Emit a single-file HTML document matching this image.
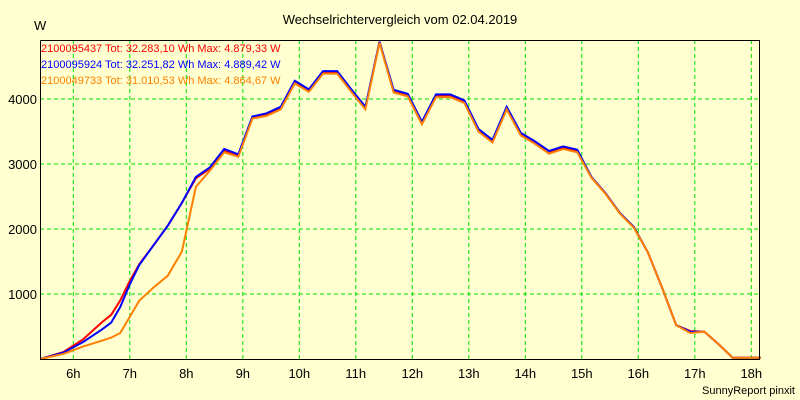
<!DOCTYPE html>
<html><head><meta charset="utf-8"><style>
body{margin:0;background:#ffffd0;}
svg{display:block;font-family:"Liberation Sans",sans-serif;}
</style></head><body>
<svg id="c" width="800" height="400" viewBox="0 0 800 400">
<rect x="0" y="0" width="800" height="400" fill="#ffffd0"/>
<text x="400" y="24" font-size="13" text-anchor="middle">Wechselrichtervergleich vom 02.04.2019</text>
<text x="34" y="30" font-size="13">W</text>
<g id="grid"></g>
<g id="series"></g>
<path d="M40.5 40.5V359.5H759.5V40.5H40.5" fill="none" stroke="#000" stroke-width="1"/>
<g id="ticks"></g>
<text x="41" y="52" font-size="11" fill="#ff0000">2100095437 Tot: 32.283,10 Wh Max: 4.879,33 W</text>
<text x="41" y="68" font-size="11" fill="#0000ff">2100095924 Tot: 32.251,82 Wh Max: 4.889,42 W</text>
<text x="41" y="84" font-size="11" fill="#ff8000">2100049733 Tot: 31.010,53 Wh Max: 4.864,67 W</text>
<text x="795" y="394" font-size="11" text-anchor="end">SunnyReport pinxit</text>
</svg>
<script>
const hourTicks=[6,7,8,9,10,11,12,13,14,15,16,17,18];
const yTicks=[1000,2000,3000,4000];
const times=[5.42,5.83,6.17,6.5,6.67,6.83,7.0,7.17,7.42,7.67,7.92,8.17,8.42,8.67,8.92,9.17,9.42,9.67,9.92,10.17,10.42,10.67,10.92,11.17,11.42,11.67,11.92,12.17,12.42,12.67,12.92,13.17,13.42,13.67,13.92,14.17,14.42,14.67,14.92,15.17,15.42,15.67,15.92,16.17,16.42,16.67,16.92,17.17,17.42,17.67,18.17];
const blueVals=[0,100,260,450,560,800,1150,1450,1750,2050,2400,2800,2950,3230,3150,3730,3780,3880,4280,4150,4430,4430,4150,3880,4880,4140,4080,3650,4070,4070,3980,3540,3370,3880,3480,3350,3200,3270,3220,2800,2550,2250,2030,1640,1100,520,420,420,230,20,20];
const redVals=[0,110,300,560,680,900,1200,1460,1750,2050,2400,2780,2930,3210,3130,3710,3760,3860,4260,4130,4410,4410,4130,3860,4880,4120,4060,3630,4050,4050,3960,3520,3350,3860,3460,3330,3180,3250,3200,2800,2550,2250,2030,1640,1100,520,430,420,230,20,20];
const orangeVals=[0,80,190,280,330,400,650,900,1100,1280,1650,2650,2900,3180,3110,3700,3740,3840,4240,4110,4390,4390,4110,3840,4865,4100,4040,3610,4030,4030,3940,3500,3330,3840,3440,3310,3160,3230,3180,2790,2540,2240,2020,1640,1100,520,400,420,230,20,20];
const X=h=>73.3+(h-6)*56.5, Y=v=>359-v*0.065;
const NS='http://www.w3.org/2000/svg';
const grid=document.getElementById('grid'),ticks=document.getElementById('ticks'),ser=document.getElementById('series');
hourTicks.forEach(h=>{
 const l=document.createElementNS(NS,'line');
 l.setAttribute('x1',X(h));l.setAttribute('x2',X(h));l.setAttribute('y1',40);l.setAttribute('y2',359);
 l.setAttribute('stroke','#00e000');l.setAttribute('stroke-dasharray','4,3');
 
 
 grid.appendChild(l);
 const t=document.createElementNS(NS,'text');
 t.setAttribute('x',X(h));t.setAttribute('y',378);t.setAttribute('font-size','13');t.setAttribute('text-anchor','middle');
 t.textContent=h+'h';
 
 
 ticks.appendChild(t);
});
yTicks.forEach(v=>{
 const l=document.createElementNS(NS,'line');
 l.setAttribute('x1',40);l.setAttribute('x2',759);l.setAttribute('y1',Y(v));l.setAttribute('y2',Y(v));
 l.setAttribute('stroke','#00e000');l.setAttribute('stroke-dasharray','4,3');
 
 
 grid.appendChild(l);
 const t=document.createElementNS(NS,'text');
 t.setAttribute('x',37);t.setAttribute('y',Y(v)+5);t.setAttribute('font-size','13');t.setAttribute('text-anchor','end');
 t.textContent=v;
 
 
 ticks.appendChild(t);
});
[[redVals,'#ff0000','series-red'],[blueVals,'#0000ff','series-blue'],[orangeVals,'#ff8000','series-orange']].forEach(([vals,col,name])=>{
 const p=document.createElementNS(NS,'polyline');
 p.setAttribute('points',times.map((h,i)=>X(h).toFixed(1)+','+Y(vals[i]).toFixed(1)).join(' '));
 p.setAttribute('fill','none');p.setAttribute('stroke',col);p.setAttribute('stroke-width','2');
 
 
 ser.appendChild(p);
});
</script>
</body></html>
